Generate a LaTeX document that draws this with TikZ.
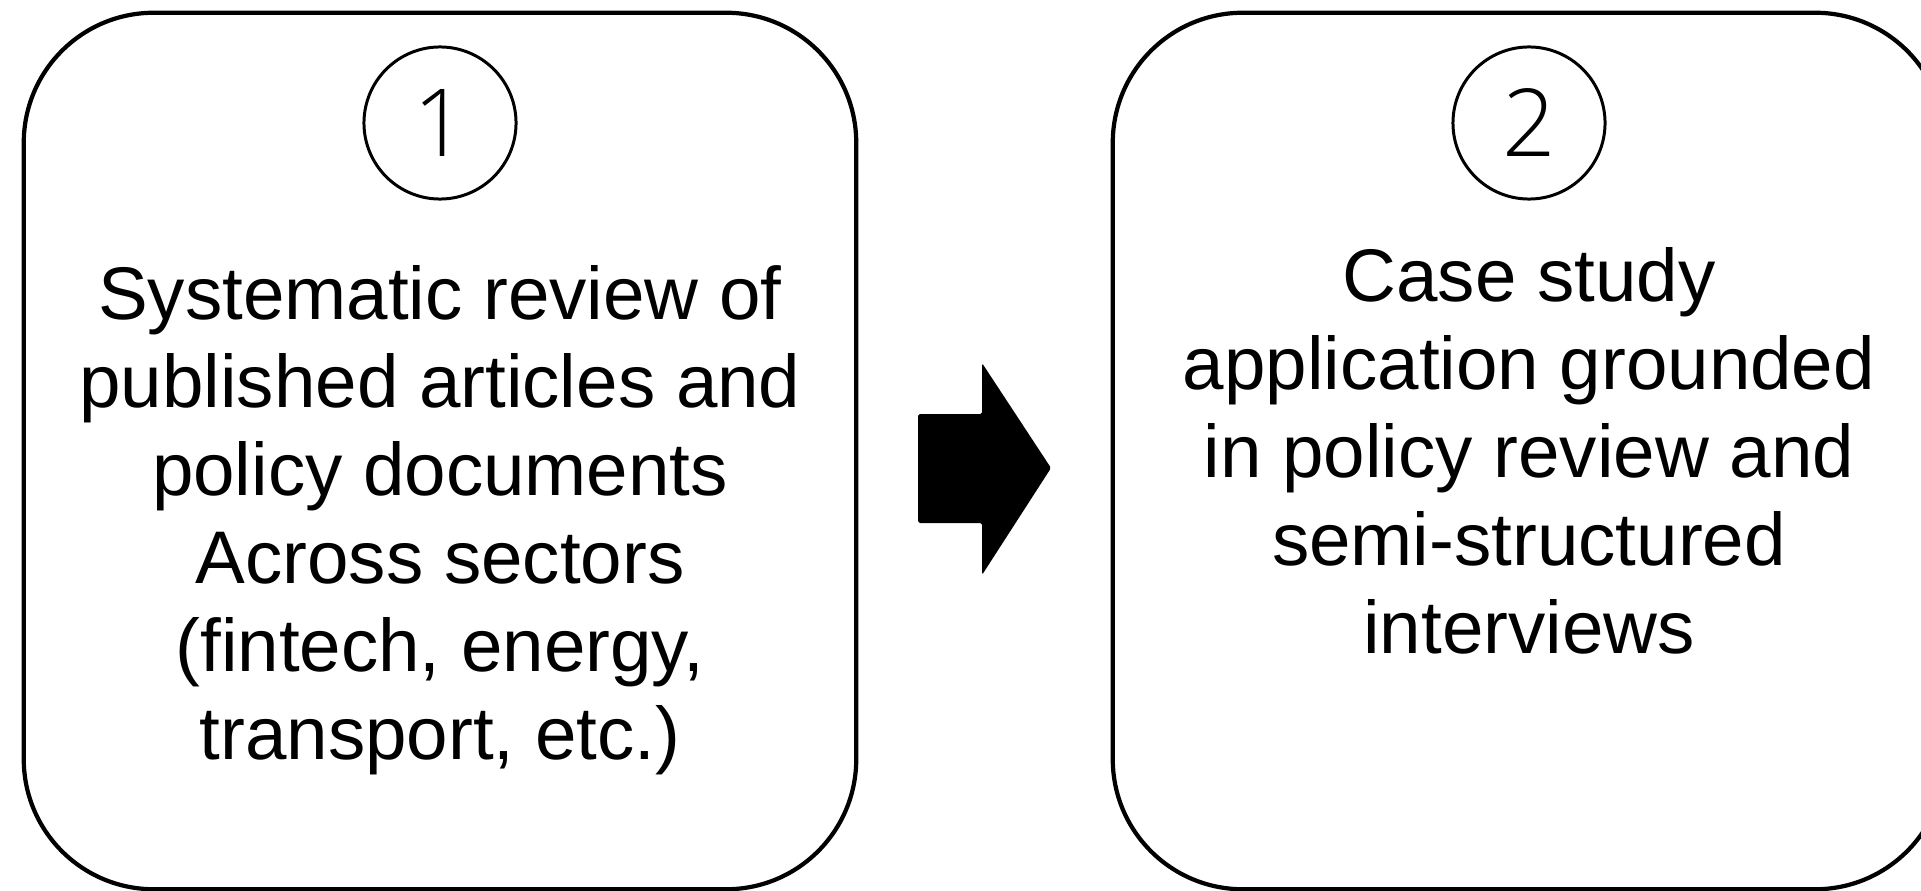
\documentclass[tikz,border=0pt]{standalone}
\usepackage{fontspec}
\setmainfont{Liberation Sans}
\newfontfamily\numfont{Open Sans Light}

\begin{document}
\begin{tikzpicture}[x=0.01cm, y=-0.01cm,
	stagebox/.style={draw, line width=1.2pt, rounded corners=1.3cm,
		minimum width=8.32cm, minimum height=8.76cm},
	stagenum/.style={draw, circle, line width=0.85pt, minimum size=1.52cm,
		inner sep=0mm, font=\numfont\fontsize{26.7pt}{30pt}\selectfont},
	stagetext/.style={align=center, inner sep=0mm,
		font=\fontsize{21.2pt}{25pt}\selectfont}]
	\useasboundingbox (0,0) rectangle (1921,891);
	\clip (0,0) rectangle (1921,891);
	\node [stagebox] (review) at (440,451) {};
	\node [stagebox] (casestudy) at (1529,451) {};
	\node [stagenum] (num1) at (440,123) {1};
	\node [stagenum] (num2) at (1529,123) {2};
	\node [stagetext] (reviewtext) at (440,520) {Systematic review of\\published articles and\\policy documents\\Across sectors\\(fintech, energy,\\transport, etc.)};
	\node [stagetext] (casetext) at (1529,451) {Case study\\application grounded\\in policy review and\\semi-structured\\interviews};
	% block arrow between the stages
	\fill [rounded corners=0.5pt] (918,414) -- (982,414) -- (982,363) -- (1051,468)
		-- (982,575) -- (982,523) -- (918,523) -- cycle;
\end{tikzpicture}
\end{document}
